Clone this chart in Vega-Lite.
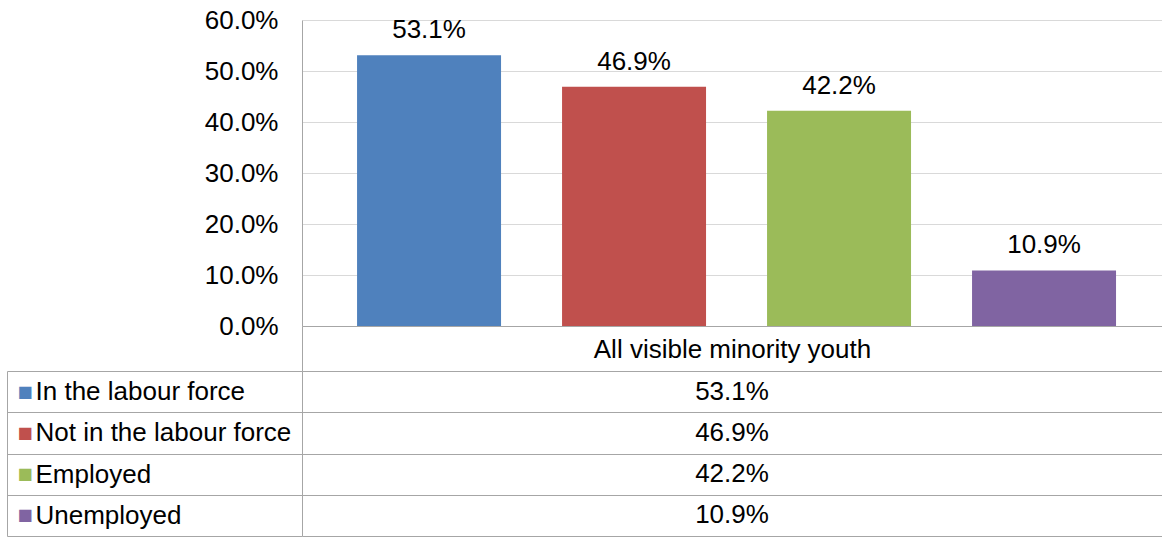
{
  "$schema": "https://vega.github.io/schema/vega-lite/v6.json",
  "padding": {"left": 6, "top": 7, "right": 0, "bottom": 0},
  "config": {"view": {"stroke": null}, "font": "Liberation Sans"},
  "data": {"values": [
    {"category": "All visible minority youth", "series": "In the labour force", "value": 0.531},
    {"category": "All visible minority youth", "series": "Not in the labour force", "value": 0.469},
    {"category": "All visible minority youth", "series": "Employed", "value": 0.422},
    {"category": "All visible minority youth", "series": "Unemployed", "value": 0.109}
  ]},
  "bounds": "flush",
  "spacing": 45,
  "vconcat": [
    {
      "width": 860,
      "height": 306,
      "layer": [
        {
          "mark": {"type": "bar"},
          "encoding": {
            "x": {"field": "category", "type": "nominal", "title": null,
              "scale": {"paddingInner": 0, "paddingOuter": 0},
              "axis": {"tickBand": "extent", "tickSize": 45, "tickColor": "#a6a6a6", "domainColor": "#a6a6a6",
                "labelFontSize": 26, "labelColor": "#000000", "labelBaseline": "middle", "labelPadding": -22,
                "labelAngle": 0, "labelLimit": 0, "grid": false}},
            "xOffset": {"field": "series", "type": "nominal",
              "sort": ["In the labour force", "Not in the labour force", "Employed", "Unemployed"],
              "scale": {"paddingInner": 0.2976, "paddingOuter": 0.2464, "align": 0.545}},
            "y": {"field": "value", "type": "quantitative", "title": null,
              "scale": {"domain": [0, 0.6]},
              "axis": {"values": [0, 0.1, 0.2, 0.3, 0.4, 0.5, 0.6], "format": ".1%", "ticks": false,
                "labelPadding": 24, "labelFontSize": 26, "labelColor": "#000000",
                "domainColor": "#a6a6a6", "grid": true, "gridColor": "#d9d9d9"}},
            "color": {"field": "series", "type": "nominal",
              "scale": {"domain": ["In the labour force", "Not in the labour force", "Employed", "Unemployed"],
                "range": ["#4f81bd", "#c0504d", "#9bbb59", "#8064a2"]},
              "legend": null}
          }
        },
        {
          "mark": {"type": "text", "baseline": "alphabetic", "dy": -17, "fontSize": 26, "color": "#000000"},
          "encoding": {
            "x": {"field": "category", "type": "nominal"},
            "xOffset": {"field": "series", "type": "nominal",
              "sort": ["In the labour force", "Not in the labour force", "Employed", "Unemployed"]},
            "y": {"field": "value", "type": "quantitative"},
            "text": {"field": "value", "format": ".1%"}
          }
        }
      ]
    },
    {
      "width": 860,
      "height": 165,
      "layer": [
        {
          "mark": {"type": "text", "fontSize": 26, "color": "#000000"},
          "encoding": {
            "x": {"field": "category", "type": "nominal", "axis": null},
            "y": {"field": "series", "type": "nominal", "title": null,
              "sort": ["In the labour force", "Not in the labour force", "Employed", "Unemployed"],
              "scale": {"paddingInner": 0, "paddingOuter": 0},
              "axis": {"tickBand": "extent", "tickSize": 295, "tickColor": "#a6a6a6", "domainColor": "#a6a6a6",
                "grid": true, "gridColor": "#a6a6a6", "labelAlign": "left", "labelPadding": -28,
                "labelFontSize": 26, "labelColor": "#000000", "labelBaseline": "middle", "labelLimit": 0}},
            "text": {"field": "value", "format": ".1%"}
          }
        },
        {
          "mark": {"type": "text", "fontSize": 26, "opacity": 0},
          "encoding": {
            "x": {"field": "category", "type": "nominal", "axis": null},
            "y": {"field": "series", "type": "nominal", "title": null,
              "sort": ["In the labour force", "Not in the labour force", "Employed", "Unemployed"],
              "axis": {"orient": "left", "offset": 295, "ticks": false, "grid": false, "domainColor": "#a6a6a6",
                "labelExpr": "'■'", "labelAlign": "left", "labelPadding": -10, "labelFontSize": 16,
                "labelFont": "DejaVu Sans", "labelBaseline": "middle",
                "labelColor": {"expr": "datum.value === 'In the labour force' ? '#4f81bd' : datum.value === 'Not in the labour force' ? '#c0504d' : datum.value === 'Employed' ? '#9bbb59' : '#8064a2'"}}},
            "text": {"field": "value", "format": ".1%"}
          }
        }
      ],
      "resolve": {"axis": {"y": "independent"}}
    }
  ]
}
